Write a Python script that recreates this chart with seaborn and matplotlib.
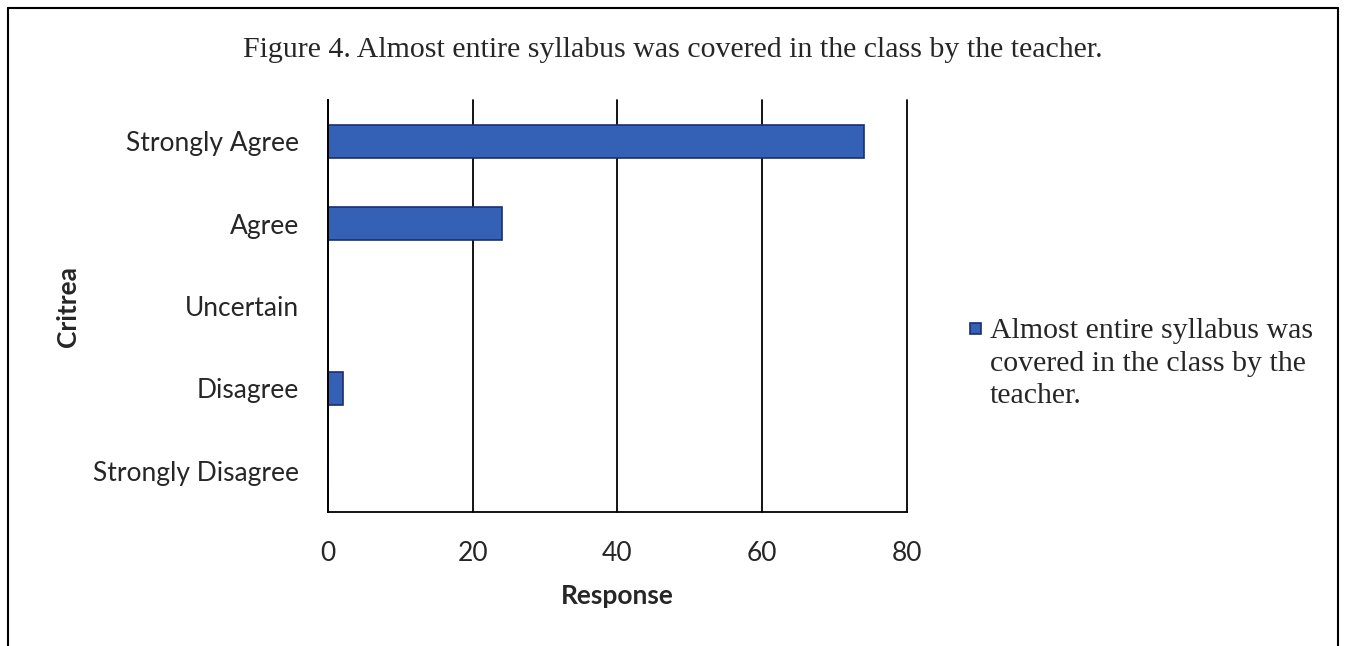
import pandas as pd
import numpy as np
import matplotlib
matplotlib.use('Agg')
import matplotlib.pyplot as plt
import seaborn as sns
from matplotlib.lines import Line2D
from matplotlib.patches import Rectangle

# dados
criterios = ['Strongly Agree', 'Agree', 'Uncertain', 'Disagree', 'Strongly Disagree']
respostas = [74, 24, 0, 2, 0]
serie_legenda = 'Almost entire syllabus was\ncovered in the class by the\nteacher.'
titulo = 'Figure 4. Almost entire syllabus was covered in the class by the teacher.'

sns.set_theme(style='white')
plt.rcParams['font.family'] = ['Lato', 'DejaVu Sans']

df = pd.DataFrame({'Critrea': criterios, 'Response': respostas})

fig = plt.figure(figsize=(13.45, 6.46), dpi=100)
ax = fig.add_axes([0.2439, 0.2074, 0.4304, 0.6378])

sns.barplot(data=df, x='Response', y='Critrea', orient='h', ax=ax,
            color='#3461b5', edgecolor='#1c2e6e', linewidth=1.2,
            width=0.4, saturation=1)

ax.set_xlim(0, 80)
ax.set_xticks([0, 20, 40, 60, 80])
ax.grid(axis='x', color='black', linewidth=1.3)
for g in ax.get_xgridlines():
    g.set_clip_on(False)
ax.set_axisbelow(True)
for lado in ['top', 'right']:
    ax.spines[lado].set_visible(False)
for lado in ['left', 'bottom']:
    ax.spines[lado].set_color('black')
    ax.spines[lado].set_linewidth(1.3)
ax.tick_params(axis='x', direction='out', length=8, width=1.3, color='black',
               labelsize=19, pad=13)
ax.tick_params(axis='y', length=0, labelsize=19, pad=21)
ax.set_xlabel('Response', fontsize=19, fontweight='bold', labelpad=13)
ax.set_ylabel('Critrea', fontsize=19, fontweight='bold', labelpad=9)

fig.text(0.5, 1 - 50 / 646, titulo, ha='center', va='center',
         fontsize=21.5, family='Liberation Serif')

# legenda desenhada à mão para alinhar o marcador com a primeira linha
fig.add_artist(Rectangle((970 / 1345, 1 - 334 / 646), 11 / 1345, 11 / 646,
                         transform=fig.transFigure, facecolor='#3461b5',
                         edgecolor='#1c2e6e', lw=1.2))
fig.text(990 / 1345, 1 - 318 / 646, serie_legenda, ha='left', va='top',
         fontsize=21.5, family='Liberation Serif', linespacing=1.33)

# moldura da figura
x0, x1, ytop = 8 / 1345, 1338 / 1345, 1 - 8 / 646
fig.add_artist(Line2D([x0, x1], [ytop, ytop], color='black', lw=1.5))
fig.add_artist(Line2D([x0, x0], [0, ytop], color='black', lw=1.5))
fig.add_artist(Line2D([x1, x1], [0, ytop], color='black', lw=1.5))

fig.savefig('out.png', dpi=100)
